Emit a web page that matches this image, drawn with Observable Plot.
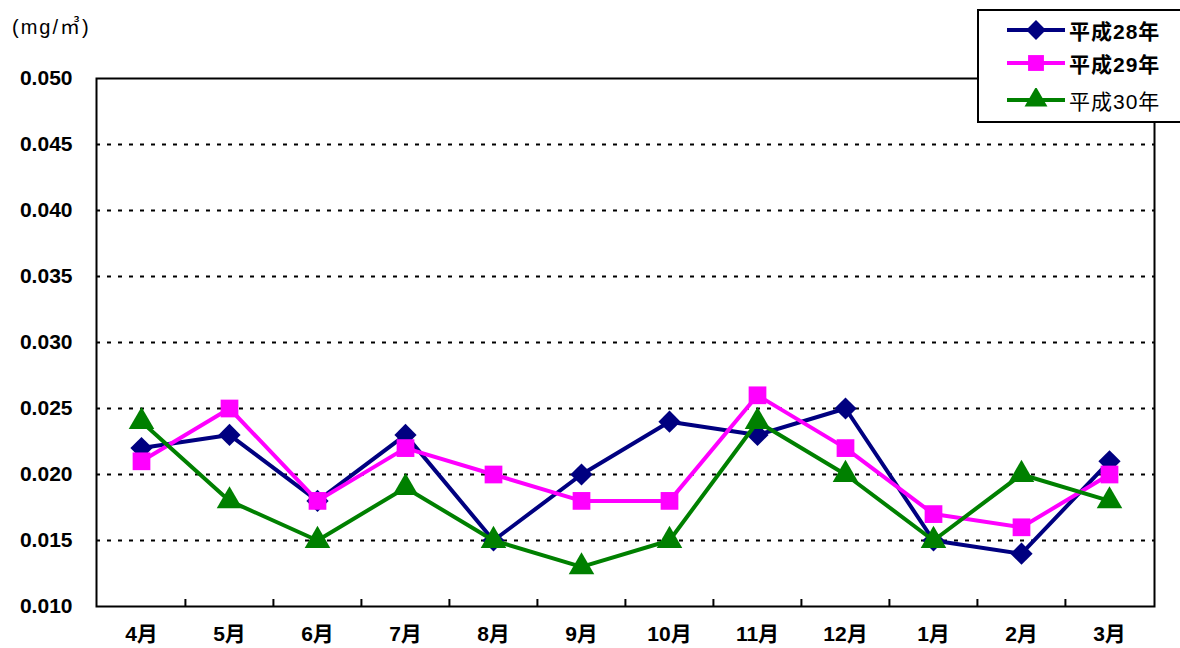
<!DOCTYPE html>
<html>
<head>
<meta charset="utf-8">
<script src="https://cdn.jsdelivr.net/npm/d3@7"></script>
<script src="https://cdn.jsdelivr.net/npm/@observablehq/plot@0.6"></script>
<style>
  html, body { margin: 0; padding: 0; background: #fff; }
  #wrap { position: relative; width: 1180px; height: 648px; font-family: "Liberation Sans", Arial, "Noto Sans CJK JP", sans-serif; }
  #unit { position: absolute; left: 12px; top: 14px; font-size: 20px; letter-spacing: 2px; color: #000; line-height: 26px; }
  #legend { position: absolute; left: 977px; top: 9px; width: 210px; height: 114px; background: #fff; border: 2px solid #000; box-sizing: border-box; }
  .item { position: absolute; left: 28px; height: 24px; display: flex; align-items: center; font-size: 21px; letter-spacing: 1px; white-space: nowrap; }
  .item svg { margin-right: 4px; }
</style>
</head>
<body>
<div id="wrap">
  <div id="chart"></div>
  <div id="unit">(mg/㎥)</div>
  <div id="legend"></div>
</div>
<script>
const months = ["4月","5月","6月","7月","8月","9月","10月","11月","12月","1月","2月","3月"];
const seriesNames = ["平成28年","平成29年","平成30年"];
const h28 = [0.022,0.023,0.018,0.023,0.015,0.020,0.024,0.023,0.025,0.015,0.014,0.021];
const h29 = [0.021,0.025,0.018,0.022,0.020,0.018,0.018,0.026,0.022,0.017,0.016,0.020];
const h30 = [0.024,0.018,0.015,0.019,0.015,0.013,0.015,0.024,0.020,0.015,0.020,0.018];
const yTicks = [0.010,0.015,0.020,0.025,0.030,0.035,0.040,0.045,0.050];
const gridTicks = [0.015,0.020,0.025,0.030,0.035,0.040,0.045];

const colors = ["#000080","#ff00ff","#008000"];
const symbols = ["diamond2","square","triangle"];
const radii = [10, 10, 9.5];
const boldness = ["bold","bold","normal"];
const values = [h28, h29, h30];

const W = 1180, H = 648, ML = 96, MR = 26, MT = 78, MB = 42;
const halfStep = (W - ML - MR) / months.length / 2;

const marks = [];
marks.push(Plot.ruleY(gridTicks, {stroke: "#000", strokeWidth: 2, strokeDasharray: "4,7"}));
marks.push(Plot.ruleX(months.slice(1), {x: d => d, dx: -halfStep, stroke: "#000", strokeWidth: 2, insetTop: H - MT - MB - 7}));
values.forEach((vals, i) => {
  const data = months.map((m, j) => ({month: m, value: vals[j]}));
  marks.push(Plot.line(data, {x: "month", y: "value", stroke: colors[i], strokeWidth: 4}));
  marks.push(Plot.dot(data, {x: "month", y: "value", fill: colors[i], symbol: symbols[i], r: radii[i], stroke: "none"}));
});
marks.push(Plot.frame({stroke: "#000", strokeWidth: 2}));
marks.push(Plot.axisX({tickSize: 0, tickPadding: 20, fontSize: 21, fontWeight: "bold", label: null}));
marks.push(Plot.axisY({ticks: yTicks, tickSize: 0, tickPadding: 24, fontSize: 21, fontWeight: "bold", tickFormat: d3.format(".3f"), label: null}));

const chart = Plot.plot({
  width: W, height: H,
  marginLeft: ML, marginRight: MR, marginTop: MT, marginBottom: MB,
  style: {fontFamily: '"Liberation Sans", Arial, "Noto Sans CJK JP", sans-serif', fontSize: "21px", color: "#000", background: "#fff"},
  x: {type: "point", domain: months, padding: 0.5},
  y: {domain: [0.010, 0.050]},
  marks
});
document.getElementById("chart").appendChild(chart);

// legend
const legend = document.getElementById("legend");
const tops = [7, 40, 77];
seriesNames.forEach((name, i) => {
  const item = document.createElement("div");
  item.className = "item";
  item.style.top = tops[i] + "px";
  item.style.fontWeight = boldness[i];
  const sym = d3.symbol(i === 0 ? d3.symbolDiamond2 : i === 1 ? d3.symbolSquare : d3.symbolTriangle, Math.PI * radii[i] * radii[i] * 0.8)();
  item.innerHTML = `<svg width="58" height="24"><line x1="0" x2="58" y1="12" y2="12" stroke="${colors[i]}" stroke-width="4"/><path d="${sym}" transform="translate(29,12)" fill="${colors[i]}"/></svg><span>${name}</span>`;
  legend.appendChild(item);
});
</script>
</body>
</html>
